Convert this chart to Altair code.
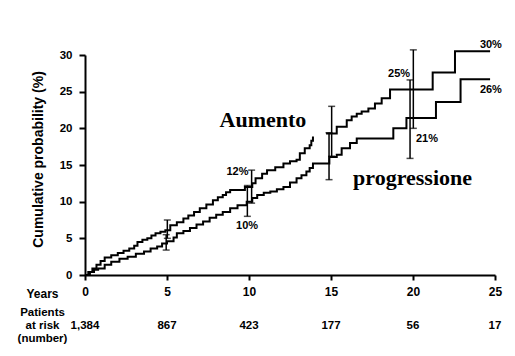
import altair as alt
import pandas as pd

# Upper curve ("Aumento"), two segments (gap near year 14)
up1_years = [0, 0.2, 0.45, 0.7, 0.95, 1.2, 1.6, 2.0, 2.35, 2.7, 3.0, 3.2, 3.5, 3.8, 4.05, 4.3, 4.6,
             4.9, 5.2, 5.6, 6.0, 6.3, 6.65, 7.0, 7.4, 7.8, 8.1, 8.4, 8.6, 8.85, 9.75, 10.2, 10.4,
             10.8, 11.1, 11.6, 12.1, 12.5, 12.9, 13.1, 13.4, 13.7, 13.8, 13.9]
up1_vals = [0, 0.4, 0.9, 1.4, 1.9, 2.4, 2.7, 3.0, 3.3, 3.6, 4.0, 4.5, 4.8, 5.0, 5.4, 5.7, 5.9,
            6.1, 6.8, 7.2, 7.7, 8.1, 8.6, 9.1, 9.6, 10.2, 10.6, 10.9, 11.3, 11.6, 12.0, 12.5, 13.2,
            13.8, 14.3, 14.7, 15.2, 15.5, 15.7, 16.6, 17.3, 17.7, 18.3, 18.9]
up2_years = [14.7, 15.35, 15.96, 16.26, 16.57, 16.87, 17.28, 17.68, 18.09, 18.6, 21.2, 22.56, 24.7]
up2_vals = [19.3, 20.2, 21.1, 21.6, 22.0, 22.3, 22.7, 23.4, 24.1, 25.3, 27.6, 30.5, 30.5]

# Lower curve ("progressione")
lo_years = [0, 0.3, 0.55, 0.8, 1.2, 1.6, 2.1, 2.6, 3.1, 3.6, 4.0, 4.4, 4.7, 5.0, 5.4, 5.6, 6.0,
            6.4, 6.8, 7.2, 7.6, 8.0, 8.4, 8.85, 9.3, 9.86, 10.2, 10.5, 10.9, 11.3, 11.7, 12.1,
            12.5, 12.9, 13.2, 13.5, 13.7, 13.9, 14.9, 15.35, 15.65, 16.16, 16.57, 18.8, 19.6,
            21.4, 22.9, 24.7]
lo_vals = [0, 0.4, 0.7, 0.9, 1.4, 1.8, 2.2, 2.5, 2.9, 3.2, 3.6, 3.9, 4.3, 4.6, 5.1, 5.7, 6.0,
           6.4, 6.9, 7.3, 7.8, 8.2, 8.6, 9.1, 9.5, 10.0, 10.5, 10.9, 11.2, 11.4, 11.7, 12.0,
           12.6, 13.2, 13.6, 14.1, 14.6, 15.2, 16.1, 16.4, 17.3, 18.0, 18.6, 20.0, 21.4,
           23.6, 26.7, 26.7]

# Confidence intervals
err_years = [5.02, 10.16, 15.04, 20.02, 4.95, 9.9, 14.88, 19.82]
err_lo = [5.0, 9.8, 16.2, 20.0, 3.4, 8.0, 13.0, 15.9]
err_hi = [7.5, 14.3, 23.0, 30.7, 5.5, 12.2, 19.4, 26.6]

# Percentage labels
pct_text = ["12%", "10%", "25%", "21%", "30%", "26%"]
pct_years = [9.3, 9.88, 19.15, 20.85, 24.75, 24.75]
pct_vals = [13.6, 6.3, 27.0, 18.2, 30.9, 24.8]

# Series names
name_text = ["Aumento", "progressione"]
name_years = [10.85, 19.97]
name_vals = [20.2, 12.3]

# Patients at risk
risk_years = [0, 5, 10, 15, 20, 25]
risk_counts = ["1,384", "867", "423", "177", "56", "17"]

left_lines = ["Years", "Patients", "at risk", "(number)"]

curves = pd.DataFrame({
    "year": up1_years + up2_years + lo_years,
    "value": up1_vals + up2_vals + lo_vals,
    "seg": ["a1"] * len(up1_years) + ["a2"] * len(up2_years) + ["b"] * len(lo_years),
})
errs = pd.DataFrame({"year": err_years, "value": err_lo, "value2": err_hi})
caps = pd.DataFrame({"year": err_years * 2, "value": err_lo + err_hi})
pcts = pd.DataFrame({"year": pct_years, "value": pct_vals, "label": pct_text})
names = pd.DataFrame({"year": name_years, "value": name_vals, "label": name_text})
risk = pd.DataFrame({"year": risk_years, "label": risk_counts})
lefts = pd.DataFrame({"label": left_lines, "py": [239, 258, 271, 284],
                      "fs": [12, 11.5, 11.5, 11.5]})

FONT = "Liberation Sans"

x_enc = alt.X("year:Q", scale=alt.Scale(domain=[0, 25], nice=False, zero=False),
              axis=alt.Axis(values=[0, 5, 10, 15, 20, 25], title=None, grid=False,
                            domainColor="black", domainWidth=2, tickColor="black", tickWidth=2,
                            tickSize=5, labelPadding=6, labelFont=FONT, labelFontSize=12,
                            labelFontWeight="bold", labelColor="black", labelFlush=False))
y_enc = alt.Y("value:Q", scale=alt.Scale(domain=[0, 30], nice=False),
              axis=alt.Axis(values=[0, 5, 10, 15, 20, 25, 30], title="Cumulative probability (%)",
                            grid=False, domainColor="black", domainWidth=2, tickColor="black",
                            tickWidth=2, tickSize=6, labelPadding=7, labelFont=FONT,
                            labelFontSize=11.5, labelFontWeight="bold", labelColor="black",
                            titleFont=FONT, titleFontSize=14, titleFontWeight="bold",
                            titleColor="black", titleX=-47, titleY=104, titleBaseline="middle",
                            titleAngle=270))

lines = alt.Chart(curves).mark_line(interpolate="step-after", color="black", strokeWidth=2).encode(
    x=x_enc, y=y_enc, detail="seg:N")

bars = alt.Chart(errs).mark_rule(color="black", strokeWidth=1.5).encode(
    x=x_enc, y=y_enc, y2="value2:Q")

cap_marks = alt.Chart(caps).mark_tick(color="black", orient="horizontal", size=7, thickness=1.5).encode(
    x=x_enc, y=y_enc)

pct_marks = alt.Chart(pcts).mark_text(font=FONT, fontSize=11, fontWeight="bold", color="black",
                                      baseline="alphabetic").encode(x=x_enc, y=y_enc, text="label:N")

name_marks = alt.Chart(names).mark_text(font="Liberation Serif", fontSize=22, fontWeight="bold",
                                        color="black", baseline="alphabetic").encode(
    x=x_enc, y=y_enc, text="label:N")

risk_marks = alt.Chart(risk).mark_text(font=FONT, fontSize=11.5, fontWeight="bold", color="black",
                                       baseline="middle").encode(
    x=x_enc, y=alt.value(271), text="label:N")

left_marks = alt.Chart(lefts).mark_text(font=FONT, fontWeight="bold", color="black",
                                        baseline="middle").encode(
    x=alt.value(-42.5), y=alt.Y("py:Q", scale=None),
    size=alt.Size("fs:Q", scale=None, legend=None), text="label:N")

chart = alt.layer(lines, bars, cap_marks, pct_marks, name_marks, risk_marks, left_marks).properties(
    width=410, height=220,
    autosize=alt.AutoSizeParams(type="none"),
    padding={"left": 77, "top": 47, "right": 12, "bottom": 70},
    background="white",
).configure_view(stroke=None)

chart.save("out.html", embed_options={"renderer": "svg", "actions": False})
